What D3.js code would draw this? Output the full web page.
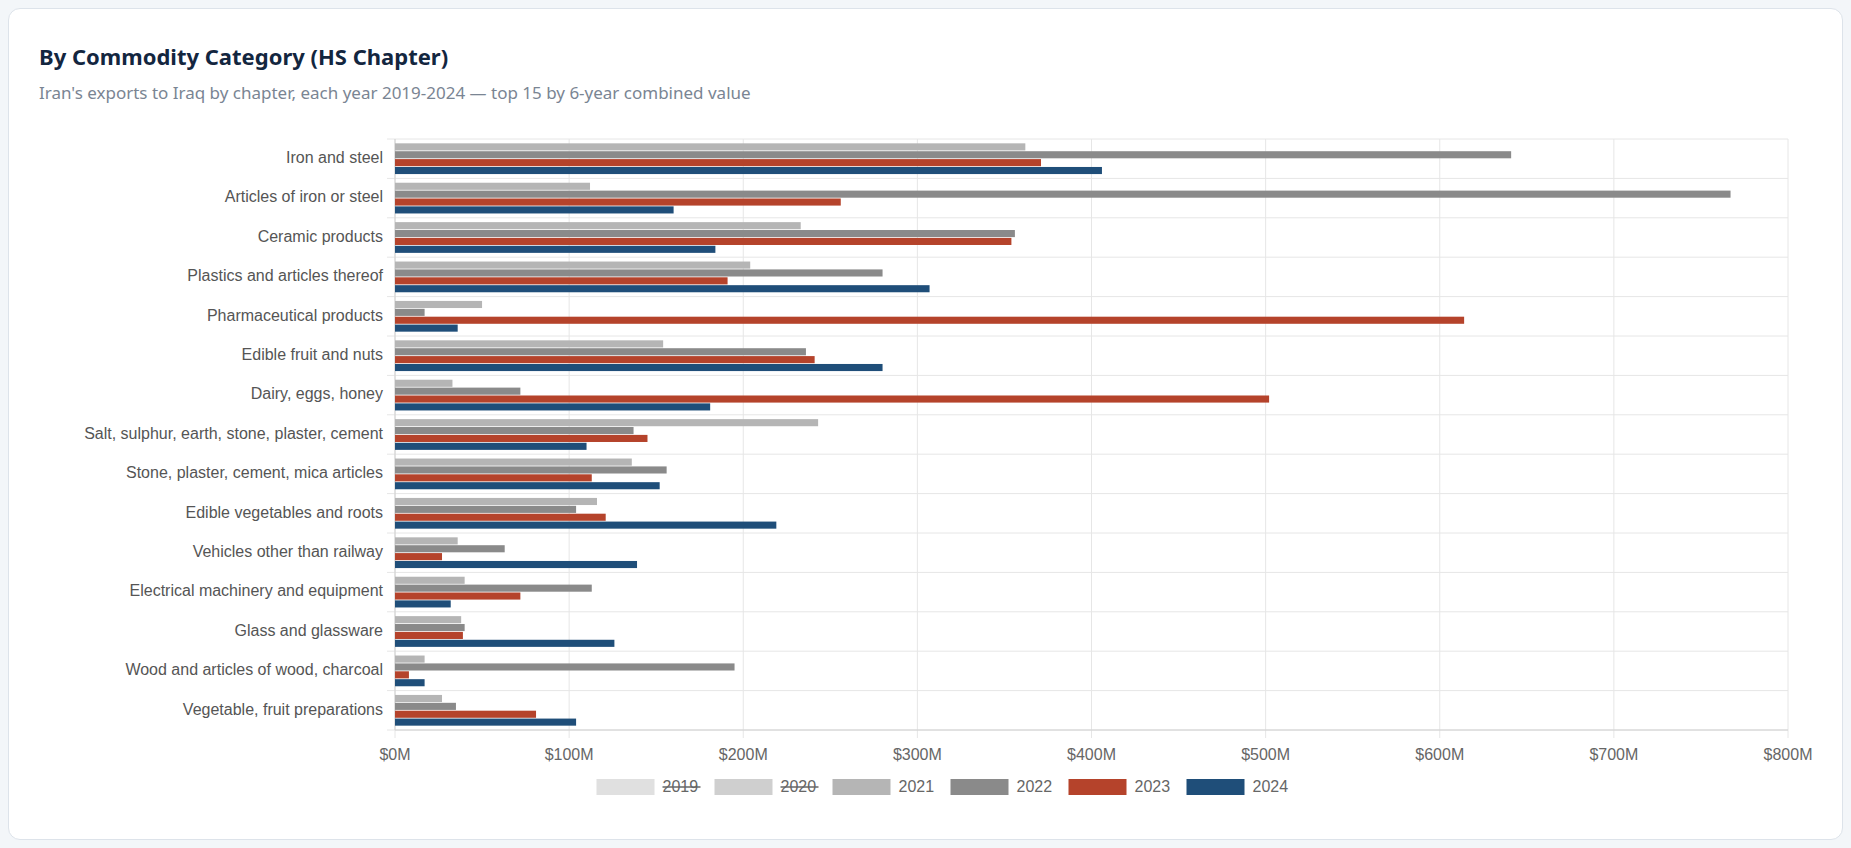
<!DOCTYPE html>
<html>
<head>
<meta charset="utf-8">
<script src="https://cdn.jsdelivr.net/npm/d3@7"></script>
<style>
  body { margin: 0; background: #f3f6f9; font-family: "Segoe UI", "Noto Sans", sans-serif; }
  .card { position: absolute; left: 8px; top: 8px; width: 1833px; height: 830px; background: #fff;
          border: 1px solid #dde3ea; border-radius: 12px; }
  h2 { position: absolute; left: 30px; top: 32px; margin: 0; font-size: 22px; color: #13263f; font-weight: 700; }
  .sub { position: absolute; left: 30px; top: 72px; font-size: 17px; color: #7a8593; }
  svg { position: absolute; left: 0; top: 0; }
</style>
</head>
<body>
<div class="card">
  <h2>By Commodity Category (HS Chapter)</h2>
  <div class="sub">Iran's exports to Iraq by chapter, each year 2019-2024 — top 15 by 6-year combined value</div>
  <svg id="chart" width="1833" height="830"></svg>
</div>
<script>
const categories = [
  'Iron and steel', 'Articles of iron or steel', 'Ceramic products', 'Plastics and articles thereof',
  'Pharmaceutical products', 'Edible fruit and nuts', 'Dairy, eggs, honey',
  'Salt, sulphur, earth, stone, plaster, cement', 'Stone, plaster, cement, mica articles',
  'Edible vegetables and roots', 'Vehicles other than railway', 'Electrical machinery and equipment',
  'Glass and glassware', 'Wood and articles of wood, charcoal', 'Vegetable, fruit preparations'
]
// values in $M; 2019 and 2020 are hidden in the legend
const v2021 = [362, 112, 233, 204, 50, 154, 33, 243, 136, 116, 36, 40, 38, 17, 27]
const v2022 = [641, 767, 356, 280, 17, 236, 72, 137, 156, 104, 63, 113, 40, 195, 35]
const v2023 = [371, 256, 354, 191, 614, 241, 502, 145, 113, 121, 27, 72, 39, 8, 81]
const v2024 = [406, 160, 184, 307, 36, 280, 181, 110, 152, 219, 139, 32, 126, 17, 104]
const years = ['2019', '2020', '2021', '2022', '2023', '2024']
const colors = ['#e0e0e0', '#cfcfcf', '#b5b5b5', '#8a8a8a', '#b5432b', '#1f4e79']
const hidden = ['2019', '2020']
const xTicks = [0, 100, 200, 300, 400, 500, 600, 700, 800]

const series = [
  { year: '2021', values: v2021 },
  { year: '2022', values: v2022 },
  { year: '2023', values: v2023 },
  { year: '2024', values: v2024 },
]

const margin = { top: 130, right: 54, bottom: 109, left: 386 }
const width = 1833, height = 830
const svg = d3.select('#chart')

const x = d3.scaleLinear().domain([0, 800]).range([margin.left, width - margin.right])
const y = d3.scaleBand().domain(categories).range([margin.top, height - margin.bottom])
const inner = d3.scaleBand().domain(series.map(s => s.year))
  .range([y.bandwidth() * 0.1, y.bandwidth() * 0.9]).paddingInner(0.1).paddingOuter(0.05)

/* grid */
svg.append('g').selectAll('line').data(xTicks).join('line')
  .attr('x1', d => x(d)).attr('x2', d => x(d))
  .attr('y1', margin.top).attr('y2', height - margin.bottom + 8)
  .attr('stroke', '#e6e6e6')
svg.append('g').selectAll('line').data(d3.range(categories.length + 1)).join('line')
  .attr('x1', margin.left - 8).attr('x2', width - margin.right)
  .attr('y1', i => margin.top + i * y.step()).attr('y2', i => margin.top + i * y.step())
  .attr('stroke', '#e6e6e6')
svg.append('line').attr('x1', margin.left).attr('x2', margin.left)
  .attr('y1', margin.top).attr('y2', height - margin.bottom).attr('stroke', '#d0d0d0')
svg.append('line').attr('x1', margin.left).attr('x2', width - margin.right)
  .attr('y1', height - margin.bottom).attr('y2', height - margin.bottom).attr('stroke', '#d0d0d0')

/* bars */
series.forEach((s) => {
  svg.append('g').selectAll('rect').data(s.values).join('rect')
    .attr('x', x(0))
    .attr('y', (d, i) => y(categories[i]) + inner(s.year))
    .attr('width', d => x(d) - x(0))
    .attr('height', inner.bandwidth())
    .attr('fill', colors[years.indexOf(s.year)])
})

/* axes labels */
svg.append('g').selectAll('text').data(categories).join('text')
  .attr('x', margin.left - 12).attr('y', d => y(d) + y.bandwidth() / 2)
  .attr('text-anchor', 'end').attr('dominant-baseline', 'middle')
  .attr('font-family', 'Liberation Sans, Arial, sans-serif').attr('font-size', 16).attr('fill', '#555')
  .text(d => d)
svg.append('g').selectAll('text').data(xTicks).join('text')
  .attr('x', d => x(d)).attr('y', height - margin.bottom + 30)
  .attr('text-anchor', 'middle')
  .attr('font-family', 'Liberation Sans, Arial, sans-serif').attr('font-size', 16).attr('fill', '#666')
  .text(d => '$' + d + 'M')

/* legend */
const itemW = [88, 88, 62, 62, 62, 62]
const boxW = 58, gap = 10
const totalW = d3.sum(years, (yr, i) => boxW + 8 + 42) + gap * 5
let lx = width / 2 - totalW / 2 + 20
const ly = 770
years.forEach((yr, i) => {
  const g = svg.append('g').attr('transform', `translate(${lx},${ly})`)
  g.append('rect').attr('width', boxW).attr('height', 16).attr('fill', colors[i])
  const t = g.append('text').attr('x', boxW + 8).attr('y', 13)
    .attr('font-family', 'Liberation Sans, Arial, sans-serif').attr('font-size', 16).attr('fill', '#666')
    .text(yr)
  if (hidden.includes(yr)) {
    g.append('line').attr('x1', boxW + 8).attr('x2', boxW + 46).attr('y1', 8).attr('y2', 8)
      .attr('stroke', '#666').attr('stroke-width', 1.5)
  }
  lx += boxW + 8 + 42 + gap
})
</script>
</body>
</html>
